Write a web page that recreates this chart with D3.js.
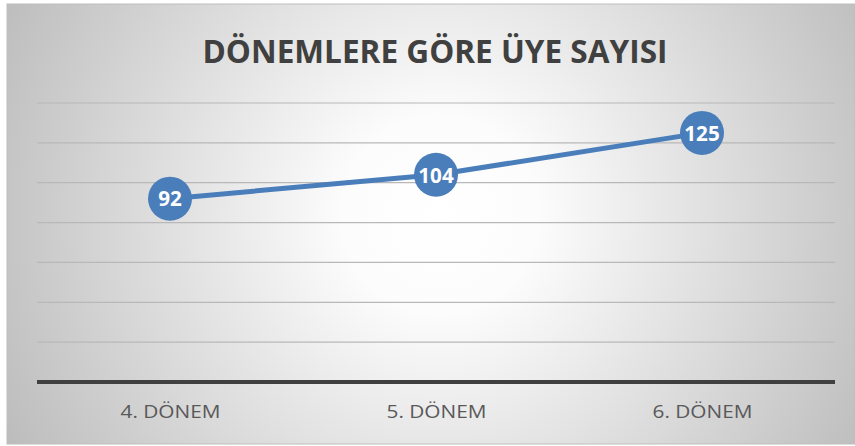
<!DOCTYPE html>
<html>
<head>
<meta charset="utf-8">
<script src="https://cdn.jsdelivr.net/npm/d3@7"></script>
<style>
  body { margin: 0; background: #fff; }
  svg { display: block; font-family: "Open Sans", sans-serif; }
</style>
</head>
<body>
<div id="chart"></div>
<script>
// data
const categories = ['4. DÖNEM', '5. DÖNEM', '6. DÖNEM'];
const members = [92, 104, 125];
const yTicks = [0, 20, 40, 60, 80, 100, 120, 140];
const title = 'DÖNEMLERE GÖRE ÜYE SAYISI';

const W = 855, H = 446;
const plot = {l: 37, r: 835, t: 103, b: 382};

const svg = d3.select('#chart').append('svg')
  .attr('width', W).attr('height', H);

// radial background like the office chart area
const grad = svg.append('defs').append('radialGradient')
  .attr('id', 'bg')
  .attr('gradientUnits', 'userSpaceOnUse')
  .attr('cx', 440).attr('cy', 215).attr('r', 490);
grad.append('stop').attr('offset', '0').attr('stop-color', '#ffffff');
grad.append('stop').attr('offset', '0.2').attr('stop-color', '#fcfcfc');
grad.append('stop').attr('offset', '1').attr('stop-color', '#bcbcbc');

svg.append('rect')
  .attr('x', 7).attr('y', 4)
  .attr('width', W - 7).attr('height', 440)
  .attr('fill', 'url(#bg)')
  .attr('stroke', '#bdbdbd').attr('stroke-width', 1);

const x = d3.scalePoint().domain(categories).range([plot.l, plot.r]).padding(0.5);
const y = d3.scaleLinear().domain([0, 140]).range([plot.b, plot.t]);

// gridlines
svg.append('g')
  .selectAll('line')
  .data(yTicks.slice(1))
  .join('line')
  .attr('x1', plot.l).attr('x2', plot.r)
  .attr('y1', d => y(d)).attr('y2', d => y(d))
  .attr('stroke', '#b8b8b8')
  .attr('stroke-width', 1.2);

// x axis (thick baseline, no ticks)
const axisX = d3.axisBottom(x).tickSize(0).tickPadding(23);
const gx = svg.append('g')
  .attr('transform', `translate(0, ${plot.b})`)
  .call(axisX);
gx.select('.domain')
  .attr('d', `M${plot.l},0H${plot.r}`)
  .attr('stroke', '#404040')
  .attr('stroke-width', 4);
gx.selectAll('text')
  .attr('font-family', '"Open Sans", sans-serif')
  .attr('font-size', 19)
  .attr('fill', '#595959')
  .attr('textLength', 100)
  .attr('lengthAdjust', 'spacingAndGlyphs');

// title
svg.append('text')
  .attr('x', 435).attr('y', 63)
  .attr('text-anchor', 'middle')
  .attr('font-size', 33)
  .attr('font-weight', 700)
  .attr('fill', '#404040')
  .attr('textLength', 465)
  .attr('lengthAdjust', 'spacingAndGlyphs')
  .text(title);

const data = categories.map((c, i) => ({cat: c, value: members[i]}));

const line = d3.line()
  .x(d => x(d.cat))
  .y(d => y(d.value));

svg.append('path')
  .datum(data)
  .attr('d', line)
  .attr('fill', 'none')
  .attr('stroke', '#4a7ebb')
  .attr('stroke-width', 5)
  .attr('stroke-linejoin', 'round');

const pts = svg.append('g')
  .selectAll('g')
  .data(data)
  .join('g')
  .attr('transform', d => `translate(${x(d.cat)}, ${y(d.value)})`);

pts.append('circle')
  .attr('r', 22)
  .attr('fill', '#4a7ebb');

pts.append('text')
  .attr('text-anchor', 'middle')
  .attr('dy', '0.37em')
  .attr('font-size', 21)
  .attr('font-weight', 700)
  .attr('fill', '#ffffff')
  .attr('textLength', d => String(d.value).length * 11.8)
  .attr('lengthAdjust', 'spacingAndGlyphs')
  .text(d => d.value);
</script>
</body>
</html>
